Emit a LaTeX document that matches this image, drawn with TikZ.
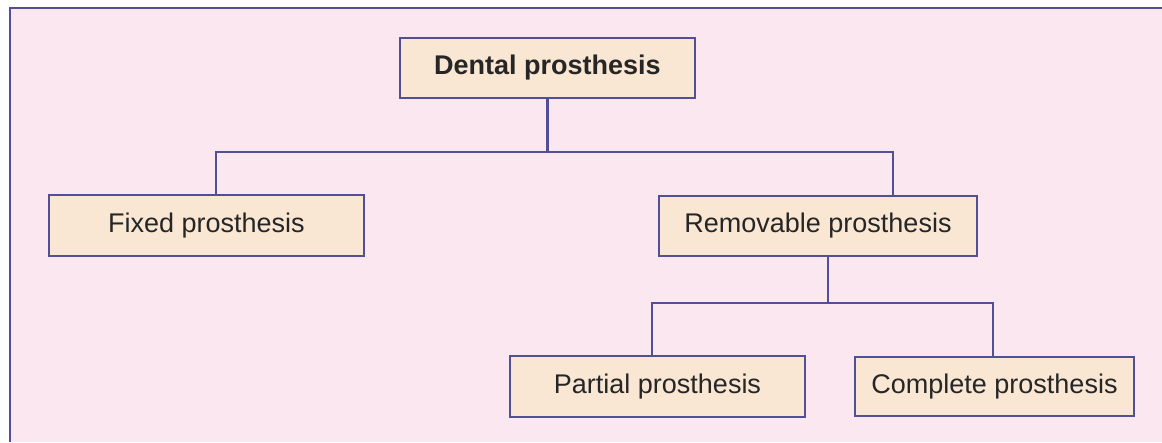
\documentclass[tikz,border=0pt]{standalone}
\usepackage{fontspec}
\setmainfont{Liberation Sans}
\usepackage{tikz}
\definecolor{bgpink}{RGB}{251,231,240}
\definecolor{boxfill}{RGB}{249,230,211}
\definecolor{linkblue}{RGB}{82,79,150}

\begin{document}
\begin{tikzpicture}[x=1pt, y=-1pt,
        box/.style={draw=linkblue, line width=2.2pt, fill=boxfill, inner sep=0pt,
            font=\fontsize{27}{32}\selectfont, text=black!85},
        link/.style={draw=linkblue, line width=2.2pt}]
            \useasboundingbox (0,0) rectangle (1162,442);
            \fill[bgpink] (10,8) rectangle (1162,442);
            \draw[link] (10,442) -- (10,8) -- (1162,8);
            \node[box, minimum width=295, minimum height=60, font=\fontsize{27}{32}\selectfont\bfseries] (dental) at (547.5,68) {Dental prosthesis};
            \node[box, minimum width=315, minimum height=61] (fixed) at (206.5,225.5) {Fixed prosthesis};
            \node[box, minimum width=318, minimum height=60] (removable) at (818,226) {Removable prosthesis};
            \node[box, minimum width=295, minimum height=61] (partial) at (657.5,386.5) {Partial prosthesis};
            \node[box, minimum width=279, minimum height=59] (complete) at (994.5,386.5) {Complete prosthesis};
            \coordinate (fork) at (547.5,152);
            \coordinate (subfork) at (828,303);
            \draw[link] (dental.south) -- (fork);
            \draw[link] ([xshift=9.5]fixed.north) |- (fork) -| ([xshift=75]removable.north);
            \draw[link] ([xshift=10]removable.south) -- (subfork);
            \draw[link] ([xshift=-5.5]partial.north) |- (subfork) -| ([xshift=-1.5]complete.north);
        \end{tikzpicture}
\end{document}
